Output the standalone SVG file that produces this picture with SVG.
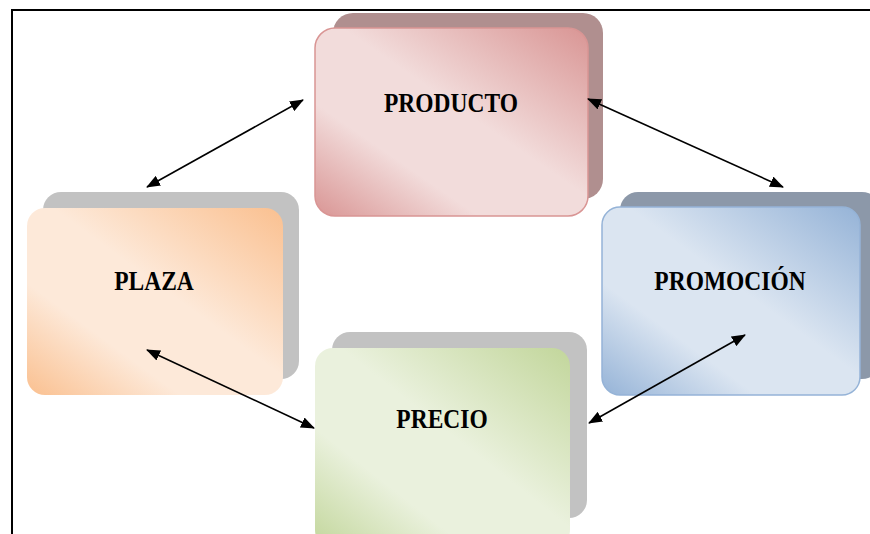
<svg xmlns="http://www.w3.org/2000/svg" width="870" height="534" viewBox="0 0 870 534">
<style>
.lbl{font-family:"Liberation Serif","Times New Roman",serif;font-weight:bold;font-size:23.5px;fill:#000;text-anchor:middle}
.conn line{stroke:#000;stroke-width:1.6;marker-start:url(#ah);marker-end:url(#ah)}
.sh{stroke:none}
</style>
<defs>
<marker id="ah" viewBox="0 0 14 11" refX="13" refY="5.5" markerWidth="14" markerHeight="11" markerUnits="userSpaceOnUse" orient="auto-start-reverse">
<path d="M0,0 L14,5.5 L0,11 z" fill="#000"/>
</marker>
<linearGradient id="gRed" x1="0" y1="1" x2="1" y2="0">
<stop offset="0" stop-color="#d99594"/><stop offset="0.3" stop-color="#f2dcdb"/><stop offset="0.55" stop-color="#f2dcdb"/><stop offset="1" stop-color="#d99594"/>
</linearGradient>
<linearGradient id="gOr" x1="0" y1="1" x2="1" y2="0">
<stop offset="0" stop-color="#fac090"/><stop offset="0.3" stop-color="#fde9d9"/><stop offset="0.55" stop-color="#fde9d9"/><stop offset="1" stop-color="#fac090"/>
</linearGradient>
<linearGradient id="gBl" x1="0" y1="1" x2="1" y2="0">
<stop offset="0" stop-color="#95b3d7"/><stop offset="0.3" stop-color="#dbe5f1"/><stop offset="0.55" stop-color="#dbe5f1"/><stop offset="1" stop-color="#95b3d7"/>
</linearGradient>
<linearGradient id="gGr" x1="0" y1="1" x2="1" y2="0">
<stop offset="0" stop-color="#c2d69b"/><stop offset="0.3" stop-color="#eaf1dd"/><stop offset="0.55" stop-color="#eaf1dd"/><stop offset="1" stop-color="#c2d69b"/>
</linearGradient>
</defs>
<rect width="870" height="534" fill="#fff"/>
<path d="M12,534 L12,10 L870,10" fill="none" stroke="#000" stroke-width="2"/>

<g id="producto">
<rect class="sh" x="333" y="13" width="270" height="186" rx="20" fill="#b08f8f"/>
<rect x="315" y="28" width="273" height="188" rx="20" fill="url(#gRed)" stroke="#d99594" stroke-width="1.5"/>
<text class="lbl" transform="translate(451,112) scale(1,1.12)">PRODUCTO</text>
</g>
<g id="plaza">
<rect class="sh" x="43" y="192" width="256" height="187" rx="18" fill="#c2c2c2"/>
<rect x="27" y="208" width="256" height="187" rx="18" fill="url(#gOr)"/>
<text class="lbl" transform="translate(154,290) scale(1,1.12)">PLAZA</text>
</g>
<g id="promocion">
<rect class="sh" x="620" y="192" width="260" height="187" rx="18" fill="#8c98a9"/>
<rect x="602" y="207" width="258" height="188" rx="18" fill="url(#gBl)" stroke="#95b3d7" stroke-width="1.5"/>
<text class="lbl" transform="translate(730,290) scale(1,1.12)">PROMOCIÓN</text>
</g>
<g id="precio">
<rect class="sh" x="332" y="332" width="255" height="186" rx="18" fill="#c2c2c2"/>
<rect x="315" y="348" width="255" height="200" rx="18" fill="url(#gGr)"/>
<text class="lbl" transform="translate(442,428) scale(1,1.12)">PRECIO</text>
</g>

<g id="connectors" class="conn">
<line x1="147" y1="187" x2="303" y2="100"/>
<line x1="588" y1="99" x2="783" y2="187"/>
<line x1="147" y1="350" x2="314" y2="428"/>
<line x1="589" y1="423" x2="745" y2="335"/>
</g>
</svg>
